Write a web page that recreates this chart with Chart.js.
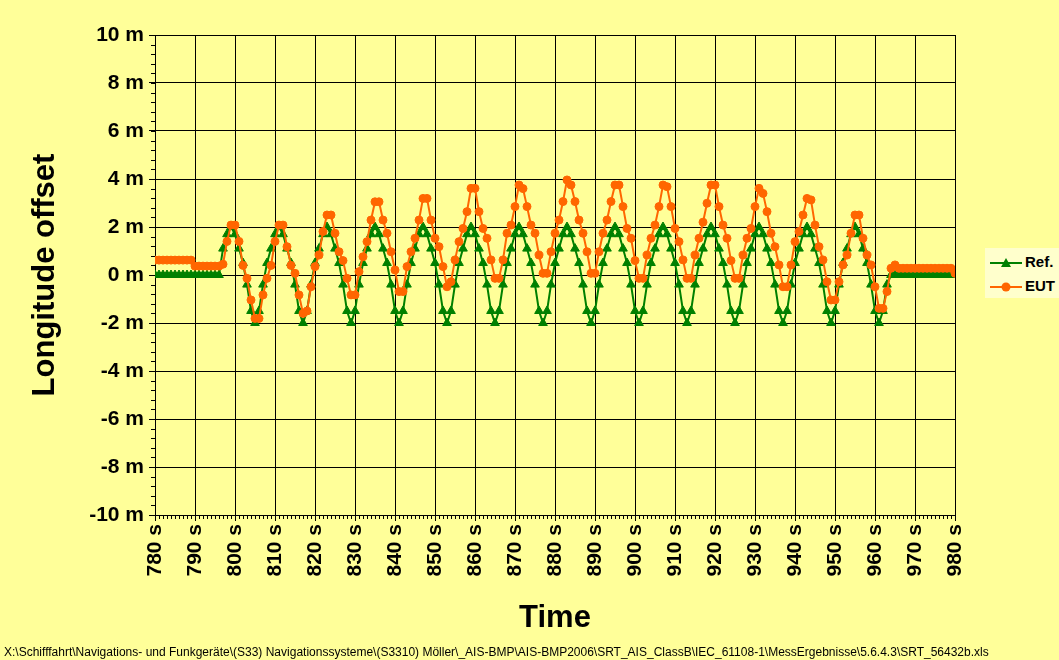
<!DOCTYPE html>
<html>
<head>
<meta charset="utf-8">
<script src="https://cdn.jsdelivr.net/npm/chart.js@4/dist/chart.umd.min.js"></script>
<style>
  html, body { margin: 0; padding: 0; background: #FFFF99; }
  #wrap { position: relative; width: 1059px; height: 660px; overflow: hidden; }
  #legend {
    position: absolute; left: 985px; top: 248px; width: 80px; height: 50px;
    background: #FFFFCC; font: bold 15px "Liberation Sans", Arial, sans-serif;
  }
  #legend .row { position: absolute; left: 4px; height: 20px; line-height: 20px; white-space: nowrap; }
  #legend svg { vertical-align: middle; margin-right: 2px; }
  #footer {
    position: absolute; left: 4px; top: 645px; white-space: nowrap;
    font: 12px "Liberation Sans", Arial, sans-serif; color: #000;
  }
</style>
</head>
<body>
<div id="wrap">
  <canvas id="myChart" width="1059" height="660"></canvas>
  <div id="legend">
    <div class="row" style="top:4px"><svg width="34" height="12"><line x1="1" y1="6" x2="33" y2="6" stroke="#008000" stroke-width="2"/><polygon points="17,1 22,10 12,10" fill="#008000"/></svg>Ref.</div>
    <div class="row" style="top:28px"><svg width="34" height="12"><line x1="1" y1="6" x2="33" y2="6" stroke="#FF6600" stroke-width="2"/><circle cx="17" cy="6" r="4.5" fill="#FF6600"/></svg>EUT</div>
  </div>
  <div id="footer">X:\Schifffahrt\Navigations- und Funkgeräte\(S33) Navigationssysteme\(S3310) Möller\_AIS-BMP\AIS-BMP2006\SRT_AIS_ClassB\IEC_61108-1\MessErgebnisse\5.6.4.3\SRT_56432b.xls</div>
</div>
<script>
"use strict";
// time stamps in seconds
const seconds = [
  780, 781, 782, 783, 784, 785, 786, 787, 788, 789,
  790, 791, 792, 793, 794, 795, 796, 797, 798, 799,
  800, 801, 802, 803, 804, 805, 806, 807, 808, 809,
  810, 811, 812, 813, 814, 815, 816, 817, 818, 819,
  820, 821, 822, 823, 824, 825, 826, 827, 828, 829,
  830, 831, 832, 833, 834, 835, 836, 837, 838, 839,
  840, 841, 842, 843, 844, 845, 846, 847, 848, 849,
  850, 851, 852, 853, 854, 855, 856, 857, 858, 859,
  860, 861, 862, 863, 864, 865, 866, 867, 868, 869,
  870, 871, 872, 873, 874, 875, 876, 877, 878, 879,
  880, 881, 882, 883, 884, 885, 886, 887, 888, 889,
  890, 891, 892, 893, 894, 895, 896, 897, 898, 899,
  900, 901, 902, 903, 904, 905, 906, 907, 908, 909,
  910, 911, 912, 913, 914, 915, 916, 917, 918, 919,
  920, 921, 922, 923, 924, 925, 926, 927, 928, 929,
  930, 931, 932, 933, 934, 935, 936, 937, 938, 939,
  940, 941, 942, 943, 944, 945, 946, 947, 948, 949,
  950, 951, 952, 953, 954, 955, 956, 957, 958, 959,
  960, 961, 962, 963, 964, 965, 966, 967, 968, 969,
  970, 971, 972, 973, 974, 975, 976, 977, 978, 979,
  980
];

// Ref. longitude offset (m)
const refOffset = [
  0, 0, 0, 0, 0, 0, 0, 0, 0, 0,
  0, 0, 0, 0, 0, 0, 0, 1.1, 1.7, 2,
  1.7, 1.1, 0.5, -0.4, -1.5, -2, -1.5, -0.4, 0.5, 1.1,
  1.7, 2, 1.7, 1.1, 0.5, -0.4, -1.5, -2, -1.5, -0.4,
  0.5, 1.1, 1.7, 2, 1.7, 1.1, 0.5, -0.4, -1.5, -2,
  -1.5, -0.4, 0.5, 1.1, 1.7, 2, 1.7, 1.1, 0.5, -0.4,
  -1.5, -2, -1.5, -0.4, 0.5, 1.1, 1.7, 2, 1.7, 1.1,
  0.5, -0.4, -1.5, -2, -1.5, -0.4, 0.5, 1.1, 1.7, 2,
  1.7, 1.1, 0.5, -0.4, -1.5, -2, -1.5, -0.4, 0.5, 1.1,
  1.7, 2, 1.7, 1.1, 0.5, -0.4, -1.5, -2, -1.5, -0.4,
  0.5, 1.1, 1.7, 2, 1.7, 1.1, 0.5, -0.4, -1.5, -2,
  -1.5, -0.4, 0.5, 1.1, 1.7, 2, 1.7, 1.1, 0.5, -0.4,
  -1.5, -2, -1.5, -0.4, 0.5, 1.1, 1.7, 2, 1.7, 1.1,
  0.5, -0.4, -1.5, -2, -1.5, -0.4, 0.5, 1.1, 1.7, 2,
  1.7, 1.1, 0.5, -0.4, -1.5, -2, -1.5, -0.4, 0.5, 1.1,
  1.7, 2, 1.7, 1.1, 0.5, -0.4, -1.5, -2, -1.5, -0.4,
  0.5, 1.1, 1.7, 2, 1.7, 1.1, 0.5, -0.4, -1.5, -2,
  -1.5, -0.4, 0.5, 1.1, 1.7, 2, 1.7, 1.1, 0.5, -0.4,
  -1.5, -2, -1.5, -0.4, 0, 0, 0, 0, 0, 0,
  0, 0, 0, 0, 0, 0, 0, 0, 0, 0,
  0
];

// EUT longitude offset (m)
const eutOffset = [
  0.62, 0.62, 0.62, 0.62, 0.62, 0.62, 0.62, 0.62, 0.62, 0.62,
  0.37, 0.37, 0.37, 0.37, 0.37, 0.37, 0.37, 0.45, 1.4, 2.08,
  2.08, 1.4, 0.4, -0.14, -1.04, -1.81, -1.81, -0.83, -0.14, 0.4,
  1.4, 2.08, 2.08, 1.18, 0.4, 0.07, -0.83, -1.6, -1.5, -0.49,
  0.35, 0.83, 1.81, 2.5, 2.5, 1.74, 0.97, 0.6, -0.14, -0.83,
  -0.83, 0.14, 0.76, 1.39, 2.29, 3.05, 3.05, 2.29, 1.74, 0.97,
  0.21, -0.69, -0.69, 0.35, 0.97, 1.53, 2.29, 3.19, 3.19, 2.29,
  1.53, 1.18, 0.35, -0.49, -0.28, 0.63, 1.39, 1.94, 2.64, 3.61,
  3.61, 2.64, 1.94, 1.53, 0.63, -0.14, -0.14, 0.63, 1.74, 2.08,
  2.85, 3.75, 3.6, 2.85, 2.08, 1.74, 0.83, 0.07, 0.07, 0.97,
  1.74, 2.29, 3.06, 3.96, 3.75, 3.06, 2.29, 1.74, 0.97, 0.07,
  0.07, 0.97, 1.74, 2.29, 3.06, 3.75, 3.75, 2.85, 1.94, 1.53,
  0.6, -0.14, -0.14, 0.83, 1.53, 2.08, 2.85, 3.75, 3.68, 2.85,
  1.94, 1.39, 0.63, -0.14, -0.14, 0.83, 1.53, 2.2, 2.99, 3.75,
  3.75, 2.85, 2.08, 1.53, 0.6, -0.14, -0.14, 0.83, 1.53, 1.94,
  2.85, 3.61, 3.4, 2.64, 1.74, 1.18, 0.42, -0.49, -0.49, 0.42,
  1.39, 1.81, 2.5, 3.19, 3.13, 2.08, 1.18, 0.63, -0.28, -1.04,
  -1.04, -0.28, 0.42, 0.83, 1.74, 2.5, 2.5, 1.53, 0.83, 0.42,
  -0.49, -1.39, -1.39, -0.69, 0.28, 0.42, 0.28, 0.28, 0.28, 0.28,
  0.28, 0.28, 0.28, 0.28, 0.28, 0.28, 0.28, 0.28, 0.28, 0.28,
  0.07
];

const xMin = 780, xMax = 980, xStep = 10, xMinorStep = 1;
const yMin = -10, yMax = 10, yStep = 2, yMinorStep = 0.4;

const refPoints = seconds.map((s, i) => ({ x: s, y: refOffset[i] }));
const eutPoints = seconds.map((s, i) => ({ x: s, y: eutOffset[i] }));

Chart.defaults.font.family = "'Liberation Sans', Arial, sans-serif";
Chart.defaults.color = "#000";

// small outside tick marks like the spreadsheet axes
const minorTicks = {
  id: "minorTicks",
  afterDraw(chart) {
    const c = chart.ctx;
    const xs = chart.scales.x;
    const ys = chart.scales.y;
    c.save();
    c.strokeStyle = "#000";
    c.lineWidth = 1;
    c.beginPath();
    for (let v = xMin; v <= xMax; v += xMinorStep) {
      const px = Math.round(xs.getPixelForValue(v)) + 0.5;
      c.moveTo(px, ys.bottom);
      c.lineTo(px, ys.bottom + 4);
    }
    for (let v = yMin; v <= yMax + 0.001; v += yMinorStep) {
      const py = Math.round(ys.getPixelForValue(v)) + 0.5;
      c.moveTo(xs.left - 4, py);
      c.lineTo(xs.left, py);
    }
    c.stroke();
    c.restore();
  }
};

const ctx = document.getElementById("myChart");
const myChart = new Chart(ctx, {
  type: "line",
  data: {
    datasets: [
      {
        label: "Ref.",
        data: refPoints,
        borderColor: "#008000",
        backgroundColor: "#008000",
        borderWidth: 2,
        pointStyle: "triangle",
        pointRadius: 5,
        pointBorderWidth: 1,
        tension: 0,
        order: 2,
      },
      {
        label: "EUT",
        data: eutPoints,
        borderColor: "#FF6600",
        backgroundColor: "#FF6600",
        borderWidth: 2,
        pointStyle: "circle",
        pointRadius: 4,
        pointBorderWidth: 1,
        tension: 0,
        order: 1,
      },
    ],
  },
  options: {
    responsive: false,
    animation: false,
    devicePixelRatio: 1,
    layout: { padding: { left: 0, right: 104, top: 35, bottom: 0 } },
    plugins: { legend: { display: false }, tooltip: { enabled: false } },
    scales: {
      x: {
        type: "linear",
        min: xMin,
        max: xMax,
        afterFit: (s) => { s.height = 145; },
        ticks: {
          stepSize: xStep,
          autoSkip: false,
          minRotation: 90,
          maxRotation: 90,
          padding: 3,
          font: { size: 21, weight: "bold" },
          callback: (v) => v + " s",
        },
        grid: { color: "#000", lineWidth: 1, tickLength: 6 },
        border: { color: "#000", width: 1 },
        title: {
          display: true,
          text: "Time",
          font: { size: 31, weight: "bold" },
          padding: { top: 0, bottom: 23 },
        },
      },
      y: {
        min: yMin,
        max: yMax,
        afterFit: (s) => { s.width = 155; },
        ticks: {
          stepSize: yStep,
          padding: 5,
          font: { size: 21, weight: "bold" },
          callback: (v) => v + " m",
        },
        grid: { color: "#000", lineWidth: 1, tickLength: 6 },
        border: { color: "#000", width: 1 },
        title: {
          display: true,
          text: "Longitude offset",
          font: { size: 31, weight: "bold" },
          padding: { top: 27, bottom: 0 },
        },
      },
    },
  },
  plugins: [minorTicks],
});
</script>
</body>
</html>
